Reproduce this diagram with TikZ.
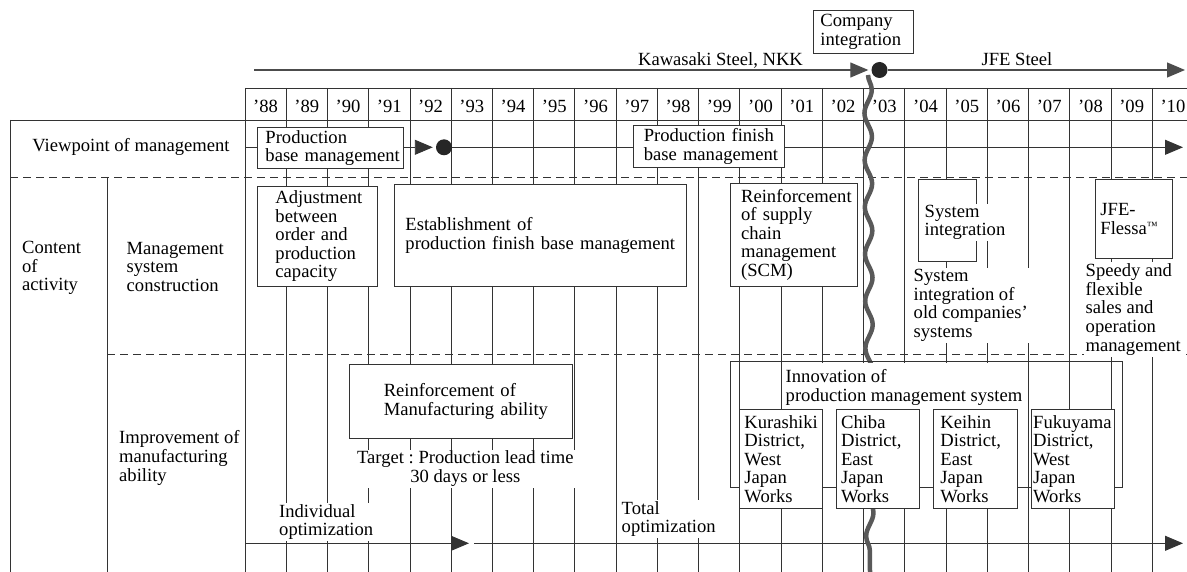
\documentclass[tikz,border=0pt]{standalone}
\usepackage{fontspec}
\setmainfont{Liberation Serif}
\usetikzlibrary{arrows.meta,decorations.pathmorphing}
\hyphenpenalty=10000
\exhyphenpenalty=10000
\frenchspacing
\begin{document}
\begin{tikzpicture}[x=1pt,y=-1pt,
    font=\fontsize{18.6pt}{18.6pt}\selectfont,
    grid/.style={black!80,line width=.9pt},
    dashline/.style={black!80,line width=.9pt,dash pattern=on 8pt off 5pt},
    axis/.style={black!70,line width=1.2pt},
    tri/.style={-{Triangle[length=18pt,width=15pt]}},
    dot/.style={circle,fill=black!85,minimum size=16pt,inner sep=0pt},
    box/.style={draw=black!80,line width=.9pt,fill=white,anchor=north west,align=left,inner ysep=0pt},
    works/.style={box,minimum height=98.4pt},
    lbl/.style={fill=white,anchor=west,align=left,inner sep=1.5pt},
    wave/.style={black!65,line width=4.5pt,decorate,decoration={snake,segment length=47pt,amplitude=3.7pt}}]
\useasboundingbox (0,0) rectangle (1187,572);
% table frame
\draw[grid] (245,88) -- (1187,88) (10,120) -- (1187,120);
\draw[dashline] (10,177) -- (1187,177) (107,354) -- (1187,354);
\draw[grid] (10,120) -- (10,572) (107,177) -- (107,572);
\foreach \i in {0,...,22}
  \draw[grid] ({245+41.24*\i},88) -- ({245+41.24*\i},572);
% years
\foreach \yr [count=\i from 0] in {88,89,90,91,92,93,94,95,96,97,98,99,00,01,02,03,04,05,06,07,08,09,10}
  \node (y\yr) at ({245+41.24*(\i+.5)},106.7) {’\yr};
% company line
\node[dot] (dotTop) at (879.5,70) {};
\coordinate (kStart) at (254,70);
\coordinate (jEnd) at (1185,70);
\draw[axis,tri,shorten >=3pt] (kStart) -- (dotTop.west);
\draw[axis,tri] (dotTop.east) -- (jEnd);
\node (kawa) at (720.5,60.5) {Kawasaki Steel, NKK};
\node (jfe) at (1017,59) {JFE Steel};
\node[box,text width=86pt,inner xsep=7pt,minimum height=43pt] (cint) at (813,10) {Company\\integration};
% viewpoint of management
\node (vom) at (131,147) {Viewpoint of management};
\node[box,text width=129.4pt,inner xsep=8.3pt,minimum height=41.6pt] (pbm) at (256.7,126.7) {Production\\base~management};
\node[box,text width=130.7pt,inner xsep=10pt,minimum height=41.5pt] (pfbm) at (633.3,125.2) {Production~finish\\base~management};
\node[dot] (dotView) at (444,147.3) {};
\coordinate (vStart) at (245,147.3);
\coordinate (vEnd) at (1183,147.3);
\draw[grid] (vStart) -- (vStart -| pbm.west);
\draw[grid,tri,shorten >=3pt] (vStart -| pbm.east) -- (dotView.west);
\draw[grid] (dotView.east) -- (dotView -| pfbm.west);
\draw[grid,tri] (dotView -| pfbm.east) -- (vEnd);
% optimization line
\coordinate (iStart) at (245,543.3);
\coordinate (iTip) at (469,543.3);
\coordinate (tStart) at (474,543.3);
\coordinate (tEnd) at (1183,543.3);
\draw[grid,tri] (iStart) -- (iTip);
\draw[grid,tri] (tStart) -- (tEnd);
% integration wave
\coordinate (wTop) at (868,75);
\coordinate (wBot) at (870,572);
\draw[wave] (wTop) -- (wBot);
% management system construction
\node[lbl] (ctnt) at (20.5,268) {Content\\of\\activity};
\node[lbl] (msc) at (125,267) {Management\\system\\construction};
\node[box,text width=84pt,inner xsep=18.3pt,minimum height=100.3pt] (adj) at (256.7,185.7) {Adjustment\\between\\order~and\\production\\capacity};
\node[box,text width=270pt,inner xsep=11pt,minimum height=102pt] (est) at (394,184) {Establishment~of\\production~finish~base~management};
\node[box,text width=105.3pt,inner xsep=10.7pt,minimum height=103.3pt] (scm) at (730,182.7) {Reinforcement\\of~supply\\chain\\management\\(SCM)};
\node[box,minimum width=57.4pt,minimum height=81.4pt,inner sep=0pt] (sysbox) at (918.3,179.3) {};
\node[lbl] (systxt) at (923,222.5) {System\\integration};
\node[lbl] (sysold) at (912,305.5) {System\\integration~of\\old~companies’\\systems};
\node[box,text width=66.7pt,inner xsep=5pt,minimum height=79pt] (jfebox) at (1095,179.3) {JFE-\\Flessa\raisebox{5pt}{\fontsize{11pt}{11pt}\selectfont ™}};
\node[lbl] (speedy) at (1084,309.5) {Speedy~and\\flexible\\sales~and\\operation\\management};
% improvement of manufacturing ability
\node[lbl] (ima) at (117.5,458) {Improvement~of\\manufacturing\\ability};
\node[box,text width=154.4pt,inner xsep=34pt,minimum height=74.3pt] (rma) at (349.3,364) {Reinforcement~of\\Manufacturing~ability};
\node[lbl,anchor=center,align=center] (target) at (465.3,468.8) {Target : Production lead time\\30 days or less};
\node[lbl] (indiv) at (277.5,522) {Individual\\optimization};
\node[lbl] (total) at (620,519) {Total\\optimization};
\node[draw=black!80,line width=.9pt,anchor=north west,minimum width=391.7pt,minimum height=126.6pt,inner sep=0pt] (innov) at (730,360.7) {};
\node[lbl,inner ysep=6pt] (innovtxt) at (784,387.3) {Innovation of\\production~management~system};
\node[works,text width=72.7pt,inner xsep=5pt] (kura) at (739,409.3) {Kurashiki\\District,\\West\\Japan\\Works};
\node[works,text width=74pt,inner xsep=4.65pt] (chiba) at (836,409.3) {Chiba\\District,\\East\\Japan\\Works};
\node[works,text width=70pt,inner xsep=6.7pt] (keihin) at (933.3,409.3) {Keihin\\District,\\East\\Japan\\Works};
\node[works,text width=79.3pt,inner xsep=2pt] (fuku) at (1030.7,409.3) {Fukuyama\\District,\\West\\Japan\\Works};
\end{tikzpicture}
\end{document}
